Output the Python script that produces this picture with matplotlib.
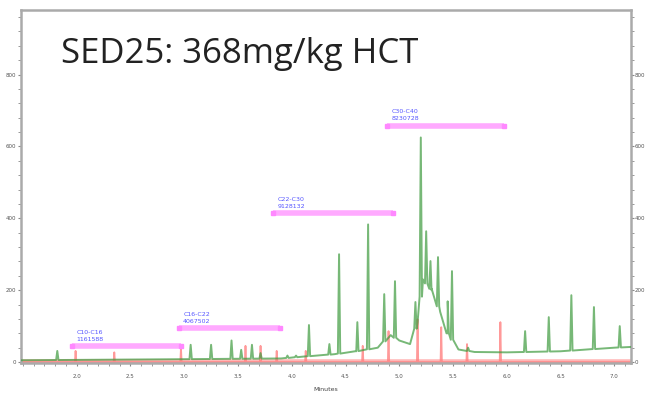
import numpy as np
import matplotlib
matplotlib.use('Agg')
import matplotlib.pyplot as plt
from matplotlib.ticker import MultipleLocator

# sample trace (green): baseline hump + peaks
base_t = [1.48, 2.0, 3.0, 3.9, 4.1, 4.4, 4.6, 4.8, 4.92, 5.0, 5.1, 5.17, 5.22, 5.3, 5.38, 5.45, 5.55, 5.7, 6.0, 6.5, 7.0, 7.15]
base_v = [5, 6, 8, 10, 15, 22, 30, 40, 75, 60, 50, 110, 230, 200, 140, 80, 35, 28, 27, 30, 40, 42]
peak_t = [1.82, 3.06, 3.25, 3.44, 3.53, 3.63, 3.71, 3.96, 4.04, 4.16, 4.35, 4.44, 4.61, 4.71,
          4.86, 4.96, 5.15, 5.20, 5.25, 5.29, 5.36, 5.45, 5.49, 5.64, 6.17, 6.39, 6.60, 6.81, 7.05]
peak_h = [31, 48, 48, 60, 34, 48, 25, 18, 18, 103, 50, 300, 111, 383,
          189, 225, 167, 625, 364, 281, 292, 169, 253, 40, 86, 125, 186, 153, 100]

# alkane standard trace (red)
std_t = [1.99, 2.35, 2.97, 3.57, 3.71, 3.86, 4.13, 4.66, 4.90, 5.17, 5.39, 5.63, 5.94]
std_h = [31, 27, 40, 45, 45, 31, 31, 45, 86, 119, 97, 50, 111]

# carbon range integration windows
rng_lab = ['C10-C16\n1161588', 'C16-C22\n4067502', 'C22-C30\n9128132', 'C30-C40\n8230728']
rng_start = [1.96, 2.95, 3.83, 4.89]
rng_end = [2.97, 3.89, 4.94, 5.97]
rng_y = [44, 94, 414, 658]

xticks = [2.0, 2.5, 3.0, 3.5, 4.0, 4.5, 5.0, 5.5, 6.0, 6.5, 7.0]
yticks = [0, 200, 400, 600, 800]


def trace(bt, bv, pt, ph, w=0.011):
    # baseline points plus a narrow triangle for each peak (heights are absolute)
    xs = list(bt)
    ys = list(bv)
    for t, h in zip(pt, ph):
        b = np.interp(t, bt, bv)
        xs += [t - w, t, t + w]
        ys += [b, max(h, b), b]
    order = np.argsort(xs, kind='stable')
    return np.array(xs)[order], np.array(ys)[order]


fig = plt.figure(figsize=(6.48, 3.96), dpi=100)
ax = fig.add_axes([0.032, 0.083, 0.941, 0.892])

rx, ry = trace([1.48, 7.15], [0, 0], std_t, std_h, w=0.006)
ax.plot(rx, ry, color='#ff8080', lw=1.3, alpha=0.8, zorder=2)
ax.axhline(0, color='#ff9999', lw=4, alpha=0.7, zorder=1)

gx, gy = trace(base_t, base_v, peak_t, peak_h)
ax.plot(gx, gy, color='#3d9a3d', lw=1.4, alpha=0.7, zorder=3)

for lab, x0, x1, y in zip(rng_lab, rng_start, rng_end, rng_y):
    ax.hlines(y, x0, x1, color='#ffaaff', lw=4, zorder=4)
    ax.plot([x0, x1], [y, y], 's', color='#ff88ff', ms=3.5, zorder=4)
    ax.text(x0 + 0.04, y + 12, lab, color='#5555ff', fontsize=4.5,
            linespacing=1.5, va='bottom', ha='left', zorder=5)

ax.text(0.066, 0.85, 'SED25: 368mg/kg HCT', transform=ax.transAxes,
        fontsize=25, family='Open Sans', color='#222222', va='baseline')

ax.set_xlim(1.48, 7.15)
ax.set_ylim(-3, 980)
ax.set_xticks(xticks)
ax.set_xticklabels(['%.1f' % v for v in xticks])
ax.set_yticks(yticks)
ax.xaxis.set_minor_locator(MultipleLocator(0.1))
ax.yaxis.set_minor_locator(MultipleLocator(40))
ax.tick_params(which='both', direction='out', color='#888888', labelsize=4,
               labelcolor='#555555', right=True, labelright=True, pad=0.8)
ax.tick_params(axis='x', pad=5)
ax.tick_params(which='major', length=2.5)
ax.tick_params(which='minor', length=2)
ax.set_xlabel('Minutes', fontsize=4.5, color='#444444', labelpad=6)
for s in ax.spines.values():
    s.set_color('#aaaaaa')
    s.set_linewidth(1.8)

fig.savefig('out.png', dpi=100)
